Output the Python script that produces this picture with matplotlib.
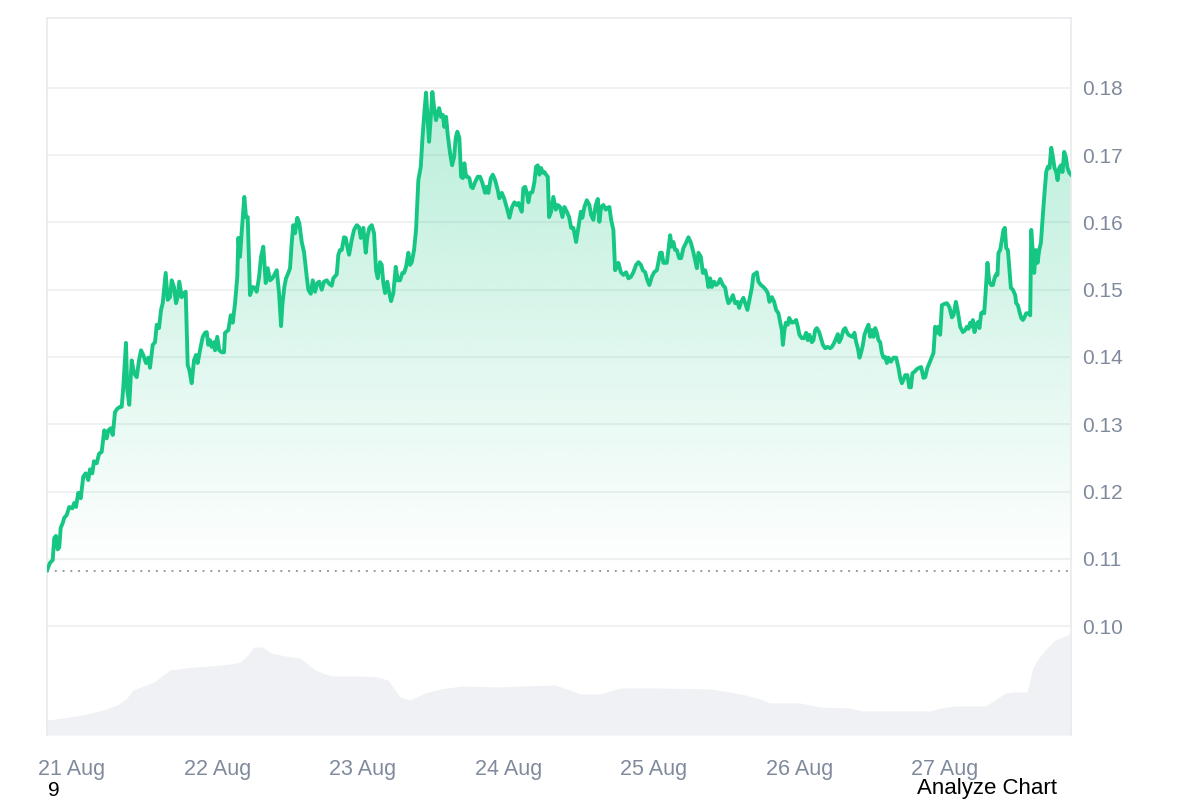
import numpy as np
import matplotlib
matplotlib.use('Agg')
import matplotlib.pyplot as plt
from matplotlib.patches import Polygon

plt.rcParams['font.family'] = ['Liberation Sans', 'DejaVu Sans']

# hours since 21 Aug 00:00
hours = [
    -4.1, -3.63, -3.18, -2.92, -2.64, -2.36, -2.10, -1.86, -1.53, -1.27,
    -0.87, -0.45, 0.05, 0.38, 0.66, 1.04, 1.44, 1.86, 2.26, 2.69,
    2.97, 3.35, 3.63, 4.08, 4.46, 4.90, 5.33, 5.73, 5.99, 6.39,
    6.72, 7.10, 7.47, 7.92, 8.20, 8.46, 8.91, 9.12, 9.45, 9.85,
    10.23, 10.68, 11.06, 11.39, 11.76, 12.21, 12.59, 12.87, 13.32, 13.70,
    13.98, 14.36, 14.69, 14.97, 15.46, 15.79, 16.17, 16.45, 16.83, 17.16,
    17.44, 17.70, 18.10, 18.48, 18.76, 19.09, 19.35, 19.75, 20.13, 20.46,
    20.74, 21.12, 21.57, 21.95, 22.23, 22.49, 22.77, 23.05, 23.43, 23.60,
    23.97, 24.30, 24.70, 25.08, 25.25, 25.79, 26.19, 26.52, 26.90, 27.27,
    27.44, 27.72, 28.00, 28.43, 28.71, 28.99, 29.37, 29.82, 30.20, 30.47,
    30.86, 31.19, 31.56, 31.96, 32.29, 32.67, 33.05, 33.38, 33.78, 34.16,
    34.49, 34.70, 35.03, 35.31, 35.69, 35.97, 36.25, 36.51, 36.80, 37.17,
    37.50, 37.90, 38.28, 38.73, 38.99, 39.39, 39.72, 40.10, 40.47, 40.80,
    41.20, 41.58, 42.03, 42.41, 42.85, 43.11, 43.68, 43.94, 44.22, 44.50,
    44.88, 45.16, 45.42, 45.71, 46.15, 46.53, 46.98, 47.36, 47.64, 48.07,
    48.46, 48.72, 49.05, 49.45, 49.83, 50.16, 50.44, 50.82, 51.10, 51.36,
    51.65, 52.02, 52.35, 52.64, 53.01, 53.41, 53.74, 54.12, 54.50, 54.78,
    55.11, 55.49, 55.77, 56.05, 56.43, 56.76, 57.14, 57.54, 57.80, 58.13,
    58.41, 58.69, 58.91, 59.19, 59.45, 59.78, 60.06, 60.34, 60.56, 60.89,
    61.17, 61.43, 61.71, 61.99, 62.37, 62.70, 63.03, 63.31, 63.57, 63.90,
    64.19, 64.47, 64.73, 65.01, 65.29, 65.55, 65.84, 66.12, 66.50, 66.94,
    67.32, 67.70, 68.15, 68.43, 68.69, 69.09, 69.42, 69.80, 70.24, 70.50,
    70.90, 71.28, 71.73, 72.16, 72.55, 72.98, 73.38, 73.64, 73.92, 74.20,
    74.46, 74.75, 75.03, 75.29, 75.57, 75.95, 76.28, 76.56, 76.84, 77.10,
    77.39, 77.67, 77.93, 78.21, 78.49, 78.71, 79.04, 79.41, 79.81, 80.14,
    80.52, 80.90, 81.23, 81.63, 82.01, 82.34, 82.71, 83.16, 83.54, 83.94,
    84.20, 84.53, 84.93, 85.35, 85.64, 86.01, 86.41, 86.74, 87.00, 87.29,
    87.66, 88.06, 88.39, 88.65, 88.94, 89.31, 89.60, 89.88, 90.14, 90.54,
    90.96, 91.41, 91.79, 92.19, 92.61, 93.06, 93.44, 93.84, 94.17, 94.55,
    94.92, 95.25, 95.65, 96.03, 96.48, 96.74, 97.02, 97.30, 97.56, 98.12,
    98.39, 98.67, 98.95, 99.21, 99.50, 99.78, 100.16, 100.49, 100.86, 101.31,
    101.69, 102.09, 102.42, 102.80, 103.08, 103.34, 103.74, 104.07, 104.45, 104.73,
    104.99, 105.27, 105.55, 105.93, 106.26, 106.64, 106.92, 107.37, 107.75, 108.03,
    108.29, 108.69, 109.02, 109.40, 109.77, 110.06, 110.39, 110.76, 111.05, 111.42,
    111.75, 112.15, 112.41, 112.98, 113.24, 113.64, 114.06, 114.46, 114.79, 115.05,
    115.45, 115.83, 116.16, 116.54, 116.82, 117.10, 117.27, 117.53, 117.76, 118.09,
    118.31, 118.75, 119.13, 119.46, 119.74, 120.00, 120.40, 120.78, 121.11, 121.39,
    121.65, 122.05, 122.31, 122.60, 122.88, 123.26, 123.54, 123.87, 124.25, 124.63,
    125.07, 125.35, 125.73, 126.06, 126.34, 126.56, 126.89, 127.26, 127.55, 127.83,
    128.09, 128.49, 128.82, 129.08, 129.36, 129.64, 129.91, 130.19, 130.47, 130.73,
    131.01, 131.39, 131.67, 131.95, 132.21, 132.50, 132.78, 133.04, 133.32, 133.60,
    133.86, 134.15, 134.43, 134.69, 135.09, 135.51, 135.96, 136.34, 136.62, 136.90,
    137.16, 137.45, 137.82, 138.11, 138.39, 138.65, 138.98, 139.38, 139.76, 140.09,
    140.46, 140.75, 141.12, 141.45, 141.85, 142.11, 142.40, 142.68, 142.94, 143.22,
    143.50, 143.93, 144.33, 144.75, 145.15, 145.41, 145.81, 146.14, 146.52, 146.97,
    147.35, 147.63, 147.89, 148.17, 148.45, 148.61, 148.88, 149.16, 149.44, 149.70,
    149.98, 150.26, 150.48, 150.69, 151.02, 151.31, 151.64, 151.92, 152.18, 152.46,
    152.67, 152.84, 153.12, 153.40, 153.66, 153.89, 154.11, 154.39, 154.65, 154.88,
    155.21, 155.60, 155.76, 156.04, 156.31, 156.59, 156.87, 157.13, 157.41, 157.79,
    158.07, 158.24, 158.52, 158.73, 159.01, 159.28, 159.56, 159.84, 160.10, 160.43,
    160.71, 160.99, 161.26, 161.54, 161.82, 162.08, 162.36, 162.58, 162.86, 163.14,
    163.40, 163.68, 163.96, 164.22, 164.50, 164.80,
]

price = [
    .1083, .1094, .1098, .1131, .1134, .1114, .1117, .1146, .1153, .1161,
    .1165, .1177, .1175, .1183, .1177, .1198, .1190, .1222, .1227, .1217,
    .1233, .1227, .1245, .1242, .1256, .1259, .1291, .1279, .1291, .1294,
    .1284, .1318, .1323, .1326, .1326, .1354, .1421, .1351, .1329, .1395,
    .1376, .1370, .1395, .1410, .1403, .1391, .1399, .1384, .1418, .1422,
    .1448, .1443, .1470, .1480, .1525, .1485, .1489, .1514, .1504, .1480,
    .1489, .1512, .1489, .1495, .1497, .1388, .1381, .1361, .1395, .1403,
    .1391, .1410, .1430, .1436, .1437, .1418, .1425, .1415, .1422, .1410,
    .1430, .1410, .1407, .1407, .1436, .1440, .1462, .1451, .1480, .1519,
    .1577, .1549, .1586, .1638, .1608, .1608, .1492, .1504, .1503, .1497,
    .1519, .1549, .1564, .1510, .1532, .1514, .1517, .1522, .1529, .1495,
    .1446, .1477, .1504, .1517, .1525, .1532, .1570, .1596, .1584, .1607,
    .1599, .1571, .1556, .1519, .1500, .1494, .1514, .1497, .1510, .1512,
    .1500, .1512, .1514, .1509, .1506, .1517, .1523, .1552, .1559, .1559,
    .1578, .1577, .1564, .1552, .1574, .1589, .1596, .1593, .1577, .1592,
    .1555, .1578, .1592, .1596, .1584, .1529, .1517, .1541, .1537, .1510,
    .1495, .1512, .1495, .1483, .1495, .1534, .1514, .1514, .1525, .1525,
    .1534, .1555, .1537, .1541, .1559, .1589, .1663, .1683, .1723, .1764,
    .1793, .1749, .1720, .1757, .1794, .1767, .1752, .1763, .1770, .1757,
    .1760, .1742, .1757, .1730, .1703, .1685, .1697, .1726, .1735, .1726,
    .1668, .1666, .1688, .1668, .1668, .1666, .1653, .1651, .1660, .1668,
    .1668, .1659, .1644, .1653, .1644, .1666, .1671, .1663, .1648, .1636,
    .1644, .1636, .1622, .1607, .1622, .1630, .1626, .1629, .1622, .1616,
    .1651, .1653, .1644, .1630, .1644, .1645, .1660, .1683, .1685, .1671,
    .1681, .1674, .1675, .1671, .1668, .1608, .1616, .1638, .1619, .1626,
    .1623, .1608, .1623, .1616, .1608, .1592, .1592, .1571, .1593, .1616,
    .1607, .1623, .1633, .1626, .1611, .1604, .1626, .1635, .1601, .1623,
    .1626, .1619, .1622, .1623, .1604, .1589, .1529, .1534, .1540, .1526,
    .1522, .1526, .1517, .1519, .1526, .1537, .1541, .1537, .1529, .1526,
    .1514, .1507, .1519, .1526, .1529, .1541, .1555, .1555, .1540, .1540,
    .1559, .1581, .1564, .1571, .1559, .1559, .1547, .1547, .1562, .1570,
    .1578, .1570, .1559, .1544, .1532, .1555, .1549, .1525, .1529, .1519,
    .1504, .1517, .1504, .1512, .1507, .1510, .1516, .1507, .1503, .1489,
    .1480, .1485, .1492, .1480, .1482, .1473, .1482, .1488, .1480, .1470,
    .1485, .1503, .1522, .1526, .1512, .1507, .1504, .1500, .1495, .1482,
    .1489, .1482, .1470, .1465, .1452, .1440, .1418, .1440, .1451, .1448,
    .1458, .1451, .1452, .1455, .1445, .1433, .1428, .1428, .1436, .1425,
    .1433, .1422, .1425, .1440, .1443, .1437, .1428, .1418, .1413, .1415,
    .1413, .1415, .1421, .1428, .1434, .1422, .1428, .1440, .1443, .1437,
    .1433, .1431, .1430, .1436, .1422, .1413, .1399, .1407, .1418, .1433,
    .1440, .1448, .1430, .1440, .1430, .1443, .1436, .1425, .1422, .1406,
    .1399, .1400, .1391, .1399, .1393, .1399, .1399, .1384, .1369, .1361,
    .1366, .1373, .1373, .1355, .1355, .1376, .1378, .1382, .1384, .1385,
    .1369, .1370, .1384, .1391, .1400, .1406, .1445, .1436, .1445, .1433,
    .1477, .1479, .1480, .1474, .1459, .1462, .1482, .1467, .1445, .1437,
    .1440, .1445, .1442, .1451, .1445, .1455, .1437, .1448, .1452, .1443,
    .1465, .1467, .1465, .1492, .1540, .1512, .1507, .1507, .1517, .1523,
    .1522, .1555, .1559, .1574, .1589, .1592, .1562, .1559, .1529, .1503,
    .1500, .1492, .1480, .1477, .1467, .1458, .1455, .1459, .1465, .1465,
    .1462, .1589, .1552, .1525, .1559, .1540, .1559, .1570, .1604, .1644,
    .1675, .1683, .1681, .1711, .1697, .1681, .1675, .1663, .1681, .1685,
    .1675, .1705, .1697, .1681, .1674, .1671,
]

# trading volume (relative units)
vol_hours = [-4.12, -3.96, -0.33, 2.48, 5.12, 7.43, 9.08, 10.07, 13.53, 16.17,
             18.65, 26.24, 27.72, 29.04, 30.03, 31.35, 32.84, 35.15, 37.62, 40.10,
             42.74, 47.52, 50.33, 52.14, 53.30, 54.12, 55.77, 58.25, 60.72, 64.35,
             70.62, 73.92, 79.70, 82.17, 83.82, 87.12, 90.42, 97.02, 105.27, 108.57,
             111.05, 113.52, 115.17, 120.12, 123.42, 128.37, 130.35, 141.57, 143.22, 145.70,
             150.65, 152.30, 153.95, 155.60, 157.58, 158.40, 159.23, 160.55, 162.20, 163.85,
             164.80]
vol_rel = [15, 15, 18, 21, 25, 30, 37, 45, 53, 65,
           67, 71, 73, 80, 88, 88, 82, 79, 77, 65,
           59, 59, 58, 55, 45, 38, 35, 42, 46, 49,
           48, 49, 50, 45, 41, 41, 47, 47, 46, 43,
           40, 36, 32, 32, 28, 27, 24, 24, 27, 29,
           29, 35, 42, 43, 43, 65, 75, 85, 95, 99,
           102]

open_price = 0.1082
y_ticks = [0.10, 0.11, 0.12, 0.13, 0.14, 0.15, 0.16, 0.17, 0.18]
x_tick_hours = [0, 24, 48, 72, 96, 120, 144]
x_tick_labels = ['21 Aug', '22 Aug', '23 Aug', '24 Aug', '25 Aug', '26 Aug', '27 Aug']

GREEN = '#16c784'
TICK = '#808a9d'
EDGE = '#e9eaed'

fig = plt.figure(figsize=(12, 8), dpi=100)
ax = fig.add_axes([47 / 1200, 65 / 800, 1024 / 1200, 717 / 800])
axv = ax.twinx()
ax.set_zorder(2)
axv.set_zorder(1)
ax.patch.set_visible(False)

# volume area
axv.fill_between(vol_hours, 0, vol_rel, color='#eff1f4', lw=0)
axv.set_ylim(0, 717)
axv.set_yticks([])
for s in axv.spines.values():
    s.set_visible(False)

xs = np.array(hours)
ys = np.array(price)

# gradient fill under line
verts = np.column_stack([np.r_[xs[0], xs, xs[-1]], np.r_[open_price, ys, open_price]])
poly = Polygon(verts, closed=True, facecolor='none', edgecolor='none')
ax.add_patch(poly)
n = 256
img = np.zeros((n, 1, 4))
img[..., 0] = 22 / 255
img[..., 1] = 199 / 255
img[..., 2] = 132 / 255
img[:, 0, 3] = np.linspace(0.0, 0.30, n)
top = ys.max()
im = ax.imshow(img, extent=[xs[0], xs[-1], open_price, top], origin='lower',
               aspect='auto', zorder=1, interpolation='bilinear')
im.set_clip_path(poly)

ax.axhline(open_price, color='#9b9b9b', lw=1.4, linestyle=(0, (1, 3)), zorder=2)
ax.plot(xs, ys, color=GREEN, lw=2.8, solid_joinstyle='round', zorder=3)

ax.set_xlim(-4.12, 164.8)
ax.set_ylim(0.0838, 0.1904)

ax.yaxis.tick_right()
ax.set_yticks(y_ticks)
ax.set_yticklabels([f'{v:.2f}' for v in y_ticks])
ax.set_xticks(x_tick_hours)
ax.set_xticklabels(x_tick_labels)
ax.tick_params(axis='y', length=0, pad=8.3, labelsize=15, labelcolor=TICK)
ax.tick_params(axis='x', length=0, pad=17.5, labelsize=15.5, labelcolor=TICK)
ax.grid(axis='y', color='#eff0f2', lw=1.3, zorder=0)
ax.grid(axis='x', visible=False)
ax.set_axisbelow(True)

for side in ['top', 'left', 'right']:
    ax.spines[side].set_color(EDGE)
    ax.spines[side].set_linewidth(1.2)
ax.spines['bottom'].set_visible(False)

fig.text(48 / 1200, 4 / 800, '9', fontsize=15, color='black', va='baseline', ha='left')
fig.text(917 / 1200, 6 / 800, 'Analyze Chart', fontsize=16, color='black',
         va='baseline', ha='left')

fig.savefig('out.png', dpi=100)
